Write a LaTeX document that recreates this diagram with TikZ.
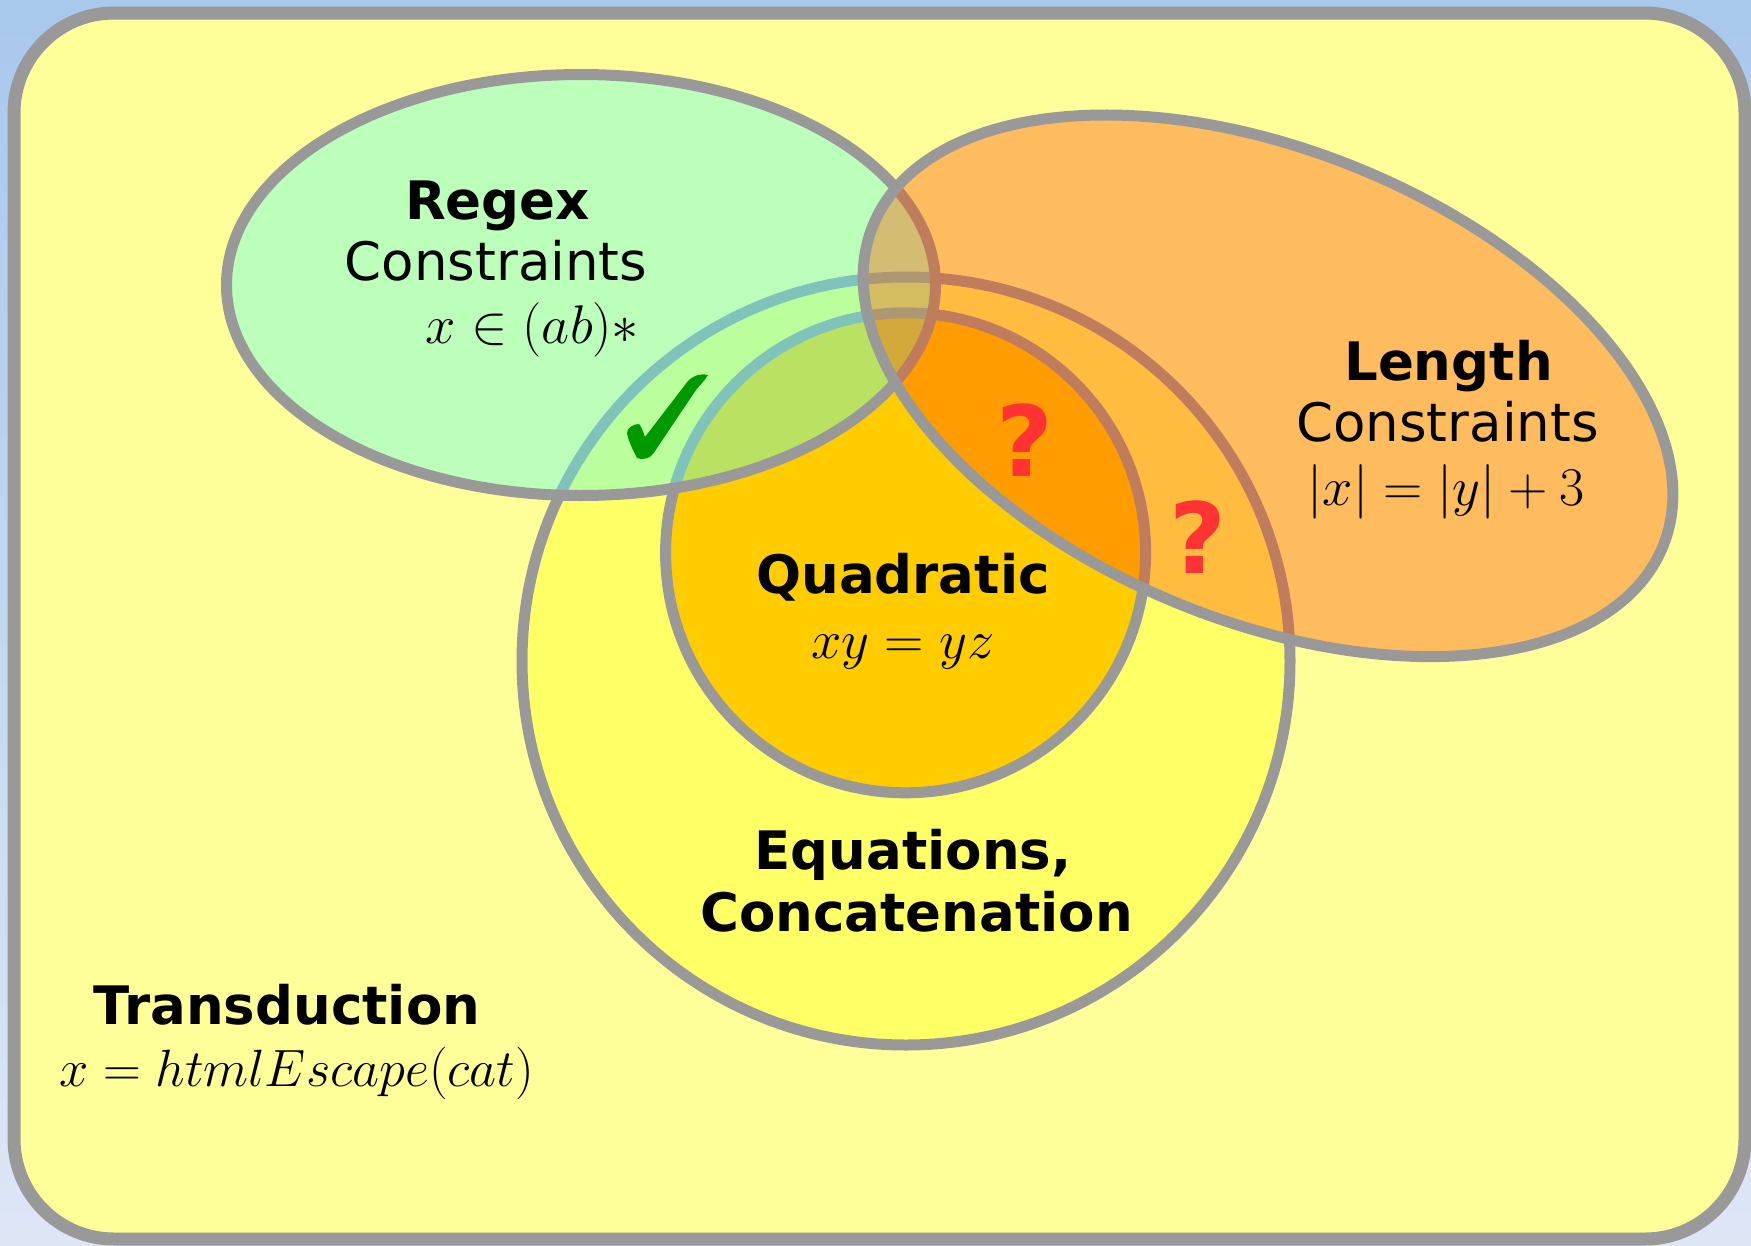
\RequirePackage{fix-cm}
\documentclass[tikz,border=0pt]{standalone}
\usepackage[no-math]{fontspec}
\setmainfont{DejaVu Sans}
\definecolor{bgtop}{RGB}{168,200,236}
\definecolor{bgbot}{RGB}{222,230,246}
\definecolor{framefill}{HTML}{FFFF99}
\definecolor{sgray}{HTML}{999999}
\definecolor{bigfill}{HTML}{FFFF66}
\definecolor{innerfill}{HTML}{FFCC00}
\definecolor{greenfill}{RGB}{94,255,235}
\definecolor{orangefill}{RGB}{255,80,0}
\definecolor{checkgreen}{HTML}{009900}
\definecolor{qred}{HTML}{FF3333}
\begin{document}
\begin{tikzpicture}[x=1pt,y=-1pt,
  txt/.style={anchor=base, inner sep=0pt, text=black, font=\fontsize{53}{64}\selectfont},
  ttl/.style={anchor=base, inner sep=0pt, text=black, font=\fontsize{53}{64}\selectfont\bfseries},
  mth/.style={anchor=base, inner sep=0pt, text=black, font=\fontsize{54.5}{64}\selectfont},
  qmark/.style={anchor=base, inner sep=0pt, text=qred, font=\fontsize{98}{110}\selectfont\bfseries},
  outline/.style={draw=sgray, line width=11pt}]
\useasboundingbox (0,0) rectangle (1751,1245);
\shade[top color=bgtop, bottom color=bgbot] (0,0) rectangle (1751,1245);
\draw[draw=sgray, line width=13pt, fill=framefill, rounded corners=100pt] (14,13) rectangle (1745,1239);
% big circle
\draw[outline, fill=bigfill] (906,661) circle [radius=384];
% inner circle
\draw[outline, fill=innerfill] (905.6,552.8) circle [radius=240];
% green ellipse
\draw[outline, fill=greenfill, fill opacity=.42] (581,285) ellipse [x radius=354.5, y radius=210.5];
% orange ellipse
\draw[outline, fill=orangefill, fill opacity=.38, rotate around={-22.1:(1268,385.8)}] (1268,385.8) ellipse [x radius=426.3, y radius=235.5];
% check mark
\fill[checkgreen] (637,458) .. controls (632,448) and (628,440) .. (627,433)
  .. controls (627,428) and (633,424) .. (639,424)
  .. controls (641,426) and (643,431) .. (645,437)
  -- (688,381) .. controls (694,375) and (702,373) .. (708,375)
  .. controls (706,379) and (701,384) .. (696,390)
  -- (653,454) .. controls (650,459) and (641,460) .. (637,458) -- cycle;
% labels
\node[ttl] (regex) at (497.5,219) {Regex};
\node[txt] (regexc) at (496,280.7) {Constraints};
\node[mth] (regexm) at (532.5,343) {$x \in (ab)*$};
\node[ttl] (length) at (1448.5,380.7) {Length};
\node[txt] (lengthc) at (1447.5,441.7) {Constraints};
\node[mth] (lengthm) at (1446,505) {$|x| = |y| + 3$};
\node[ttl] (quad) at (903,593.3) {Quadratic};
\node[mth] (quadm) at (903,658) {$xy = yz$};
\node[ttl] (eq) at (913,869) {Equations,};
\node[ttl] (concat) at (916.7,931.7) {Concatenation};
\node[ttl] (trans) at (287,1024) {Transduction};
\node[mth, font=\fontsize{52.5}{62}\selectfont] (transm) at (296.7,1086.7) {$x = htmlEscape(cat)$};
\node[qmark] (q1) at (1024.5,476) {?};
\node[qmark] (q2) at (1197.5,573) {?};
\end{tikzpicture}
\end{document}
